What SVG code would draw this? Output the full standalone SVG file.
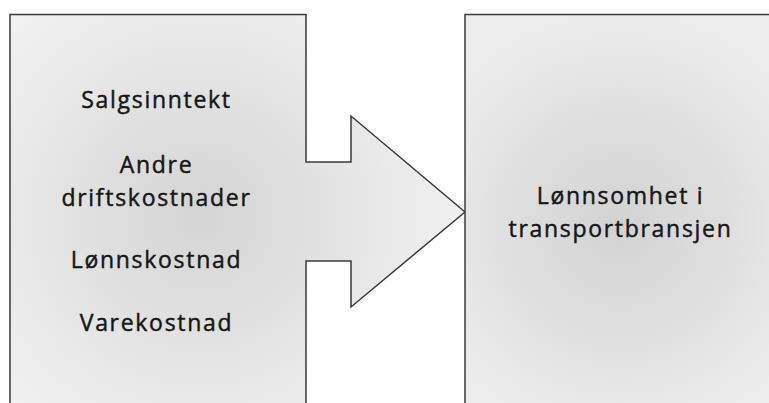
<svg xmlns="http://www.w3.org/2000/svg" width="769" height="403" viewBox="0 0 769 403">
  <style>
    .shape { stroke: #3a3a3a; stroke-width: 1.5; stroke-linejoin: miter; }
    .label { font-family: "Open Sans", "Liberation Sans", sans-serif; font-size: 23px; letter-spacing: 1.7px; fill: #161616; stroke: #161616; stroke-width: 0.45; text-anchor: middle; }
  </style>
  <defs>
    <radialGradient id="gradLeft" gradientUnits="userSpaceOnUse" cx="200" cy="215" r="270">
      <stop offset="0" stop-color="#d4d4d4"/>
      <stop offset="1" stop-color="#f2f2f2"/>
    </radialGradient>
    <radialGradient id="gradRight" gradientUnits="userSpaceOnUse" cx="620" cy="225" r="220">
      <stop offset="0" stop-color="#d2d2d2"/>
      <stop offset="1" stop-color="#ededed"/>
    </radialGradient>
  </defs>

  <rect width="769" height="403" fill="#ffffff"/>

  <g id="connectors"></g>

  <!-- source block with its arrow -->
  <g id="node-inputs">
    <path class="shape" fill="url(#gradLeft)" d="M10,420 L10,14.5 L306,14.5 L306,162 L351,162 L351,116 L465,212 L351,307 L351,261 L306,261 L306,420"/>
    <text class="label" x="156.5" y="108">Salgsinntekt</text>
    <text class="label" x="156.5" y="173">Andre</text>
    <text class="label" x="156.5" y="206">driftskostnader</text>
    <text class="label" x="156.5" y="268">Lønnskostnad</text>
    <text class="label" x="156.5" y="331">Varekostnad</text>
  </g>

  <!-- target block -->
  <g id="node-result">
    <rect class="shape" x="465" y="14.5" width="320" height="420" fill="url(#gradRight)"/>
    <text class="label" x="620.5" y="204">Lønnsomhet i</text>
    <text class="label" x="620.5" y="237">transportbransjen</text>
  </g>
</svg>
